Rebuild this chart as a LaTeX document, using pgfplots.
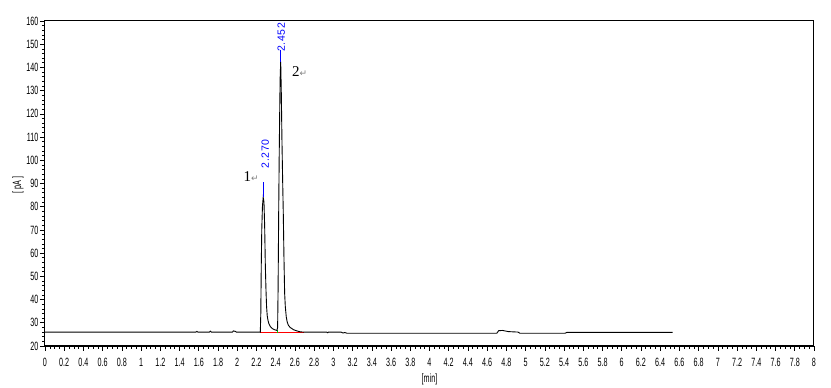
\documentclass[border=0pt]{standalone}
\usepackage{pgfplots}
\pgfplotsset{compat=1.18}
\usepackage{fontspec}
\setmainfont{Liberation Serif}
\newfontfamily\narrowfont[FakeStretch=0.6]{Liberation Sans}
\newfontfamily\labfont[LetterSpace=6]{Liberation Sans}
\newfontfamily\symfont{DejaVu Sans}
\definecolor{peakblue}{RGB}{0,0,255}
\begin{document}
\begin{tikzpicture}[x=1pt,y=1pt]
\useasboundingbox (0,0) rectangle (831,388);
\begin{axis}[
  at={(45pt,42pt)}, anchor=south west,
  scale only axis, width=769pt, height=325pt,
  xmin=0, xmax=8, ymin=20, ymax=160,
  xtick={0,0.2,...,8.01}, ytick={20,30,...,160},
  minor x tick num=3, minor y tick num=4,
  xtick pos=left, ytick pos=left,
  tick align=outside,
  major tick length=5pt, minor tick length=3pt,
  every tick/.style={black, line width=0.6pt},
  axis line style={black, line width=1pt},
  /pgf/number format/assume math mode=true,
  ticklabel style={font=\narrowfont\fontsize{12}{13}\selectfont},
  xticklabel style={yshift=-4pt},
  yticklabel style={xshift=2pt},
  xlabel={[min]}, ylabel={[ pA ]},
  label style={font=\narrowfont\fontsize{12}{13}\selectfont},
  xlabel style={at={(axis description cs:0.5,0)}, anchor=north, yshift=-24pt},
  ylabel style={at={(axis description cs:-0.035,0.495)}, anchor=center, rotate=0},
  clip=false,
]
% baseline segment (red) and valley drop (green)
\addplot[red, line width=1pt] coordinates {(2.240,26) (2.690,26)};
\addplot[green!80!black, line width=0.8pt] coordinates {(2.413,25.4) (2.413,27.0)};
% chromatogram trace
\addplot[black, line width=0.9pt] coordinates {
(0,26) (1.57,26) (1.58,26.3) (1.59,26) (1.71,26) (1.72,26.4) (1.73,26)
(1.95,26) (1.96,26.5) (1.98,26.3) (1.99,26)
(2.240,26) (2.245,34) (2.250,55) (2.255,70) (2.262,80) (2.270,84)
(2.278,82) (2.285,72) (2.292,55) (2.299,44) (2.305,37) (2.312,33)
(2.320,31) (2.330,29.5) (2.345,28.3) (2.365,27.5) (2.390,27.0) (2.413,26.7)
(2.420,28) (2.425,45) (2.431,77) (2.436,100) (2.441,118.7) (2.446,135)
(2.452,142.5) (2.458,130) (2.465,108.8) (2.472,92) (2.479,77) (2.486,58)
(2.493,42.8) (2.500,37) (2.510,32.5) (2.520,30.3) (2.531,29) (2.550,28)
(2.587,27) (2.620,26.5) (2.656,26.1) (2.690,26)
(2.93,26) (2.94,25.7) (2.95,26) (3.08,26) (3.10,25.6) (3.12,25.8) (3.14,25.5)
(4.70,25.5) (4.72,26.6) (4.76,26.7) (4.82,26.2) (4.92,26.0) (4.94,25.5)
(5.41,25.5) (5.43,25.9) (6.53,25.9)
};
% blue retention-time ticks
\addplot[peakblue, line width=0.8pt] coordinates {(2.270,84) (2.270,90.5)};
\addplot[peakblue, line width=0.8pt] coordinates {(2.452,142.5) (2.452,147.5)};
\node[rotate=90, text=peakblue, font=\labfont\fontsize{10.5}{12}\selectfont, inner sep=0pt] at (axis cs:2.292,102.7) {2.270};
\node[rotate=90, text=peakblue, font=\labfont\fontsize{10.5}{12}\selectfont, inner sep=0pt] at (axis cs:2.458,153.0) {2.452};
\node[font=\fontsize{15}{16}\selectfont, inner sep=0pt, anchor=east] at (axis cs:2.225,93.2) {1\textcolor{gray}{\symfont\fontsize{9}{10}\selectfont ↵}};
\node[font=\fontsize{15}{16}\selectfont, inner sep=0pt, anchor=west] at (axis cs:2.570,138.3) {2\textcolor{gray}{\symfont\fontsize{9}{10}\selectfont ↵}};
\draw[black, line width=1.8pt] (rel axis cs:0,0) -- (rel axis cs:1,0);
\end{axis}
\end{tikzpicture}
\end{document}
